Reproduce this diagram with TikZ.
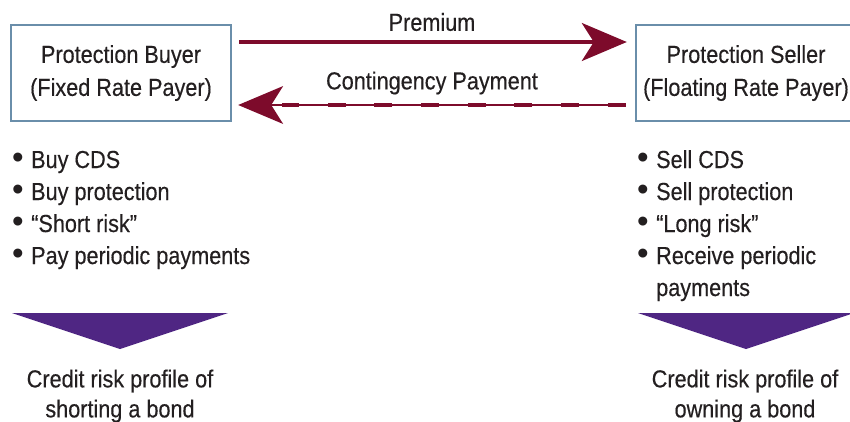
\documentclass[tikz,border=0pt]{standalone}
\usepackage{fontspec}
\setmainfont{Liberation Sans}[FakeStretch=0.88, FakeBold=0.35]
\newfontfamily\plainf{Liberation Sans}
\usetikzlibrary{arrows.meta}
\definecolor{boxblue}{HTML}{6A8EAA}
\definecolor{arrowred}{HTML}{7D0B2B}
\definecolor{tripurple}{HTML}{4F2683}
\definecolor{ink}{HTML}{231F20}
\newcommand{\bul}{\makebox[19pt][l]{\raisebox{0pt}{\plainf\fontsize{33}{32}\selectfont\textbullet}}}
\newcommand{\nobul}{\hspace*{19pt}}
\tikzset{
  x=1pt, y=-1pt,
  every node/.style={font=\fontsize{24.6}{32}\selectfont, text=ink},
  party/.style={draw=boxblue, line width=2.4pt, minimum width=220pt, minimum height=96pt, align=center, inner sep=0pt, font=\fontsize{24.6}{33}\selectfont},
  flow/.style={draw=arrowred, line width=3.5pt, -{Stealth[length=45pt, width=38pt, inset=12pt]}},
  flowthin/.style={draw=arrowred, line width=1.6pt, -{Stealth[length=45pt, width=38pt, inset=12pt, line width=0pt]}},
  flowdash/.style={draw=arrowred, line width=4.5pt, dash pattern=on 18pt off 28.7pt},
  lbl/.style={inner sep=0pt},
  blist/.style={anchor=base west, inner sep=0pt, align=left},
  caption/.style={align=center, inner sep=0pt, font=\fontsize{24.6}{30}\selectfont},
  tri/.style={fill=tripurple, draw=none}
}
\begin{document}
\begin{tikzpicture}
\useasboundingbox (0,0) rectangle (850,421);
% parties
\node[party] (buyer) at (121,73) {Protection Buyer\\(Fixed Rate Payer)};
\node[party] (seller) at (746,73) {Protection Seller\\(Floating Rate Payer)};
% premium
\coordinate (pS) at (buyer.east |- 0,42);
\coordinate (pE) at (seller.west |- 0,42);
\draw[flow, shorten <=7pt, shorten >=8pt] (pS) -- (pE);
\node[lbl] (prem) at (432,22) {Premium};
% contingency payment
\coordinate (cS) at (seller.west |- 0,105);
\coordinate (cE) at (buyer.east |- 0,105);
\draw[flowthin, shorten <=9pt, shorten >=6pt] (cS) -- (cE);
\draw[flowdash, shorten <=9pt, shorten >=50pt] (cS) -- (cE);
\node[lbl] (cont) at (432,83) {Contingency Payment};
% bullet lists
\node[blist] (blist) at (12,168) {\begin{tabular}[t]{@{}l@{}}
\bul Buy CDS\\
\bul Buy protection\\
\bul “Short risk”\\
\bul Pay periodic payments
\end{tabular}};
\node[blist] (slist) at (637,168) {\begin{tabular}[t]{@{}l@{}}
\bul Sell CDS\\
\bul Sell protection\\
\bul “Long risk”\\
\bul Receive periodic\\
\nobul payments
\end{tabular}};
% triangles
\fill[tri] (12,313) -- (228,313) -- (120,349) -- cycle;
\fill[tri] (638,313) -- (854,313) -- (746,349) -- cycle;
% captions
\node[caption] (bcap) at (120,396) {Credit risk profile of\\shorting a bond};
\node[caption] (scap) at (745,396) {Credit risk profile of\\owning a bond};
\end{tikzpicture}
\end{document}
